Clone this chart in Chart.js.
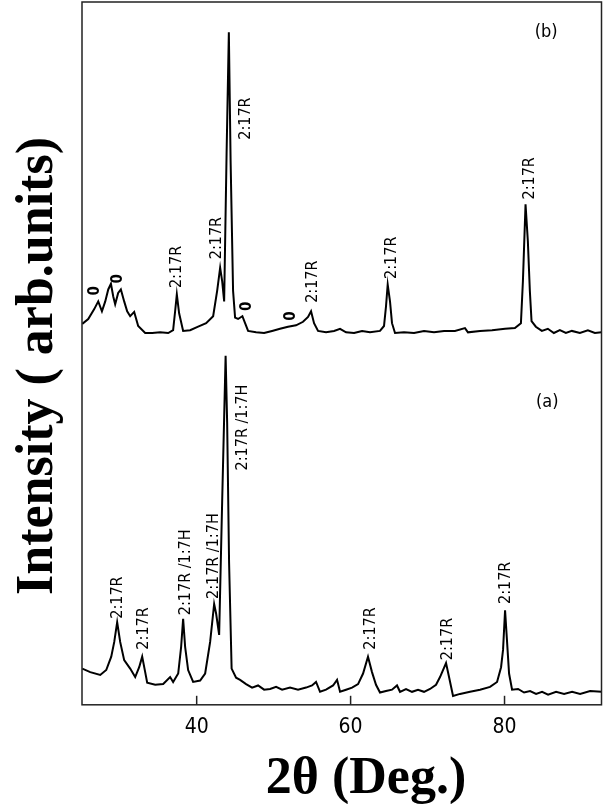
<!DOCTYPE html>
<html>
<head>
<meta charset="utf-8">
<script src="https://cdn.jsdelivr.net/npm/chart.js@4.4.0/dist/chart.umd.min.js"></script>
<style>
  html, body { margin: 0; padding: 0; background: #fff; }
  #wrap { width: 604px; height: 804px; }
</style>
</head>
<body>
<div id="wrap"><canvas id="xrd"></canvas></div>
<script>
// 2theta (deg) and intensity (arb. units)
const angleA = [25.13, 26.17, 27.47, 28.25, 28.9, 29.29, 29.67, 30.06, 30.58, 31.36, 32.01, 32.53, 32.92, 33.31, 33.57, 34.61, 35.65, 36.55, 36.94, 37.6, 37.98, 38.24, 38.5, 38.89, 39.54, 40.45, 41.1, 41.75, 42.27, 42.53, 42.92, 43.31, 43.76, 43.96, 44.21, 44.54, 45.12, 45.64, 46.42, 47.2, 47.98, 48.76, 49.54, 50.32, 51.1, 52.13, 53.17, 54.21, 54.99, 55.51, 56.03, 56.81, 57.72, 58.24, 58.63, 59.41, 60.19, 60.97, 61.62, 62.26, 62.78, 63.3, 63.82, 64.6, 65.38, 66.03, 66.42, 67.2, 67.98, 68.76, 69.54, 70.32, 71.1, 71.62, 72.4, 72.79, 73.31, 74.22, 75.52, 76.82, 78.12, 79.03, 79.55, 79.81, 80.07, 80.33, 80.59, 80.98, 81.76, 82.54, 83.32, 84.1, 84.88, 85.66, 86.7, 87.74, 88.78, 89.82, 91.12, 92.6];
const intensityA = [3.3, 2.8, 2.4, 3.1, 5.0, 7.1, 9.9, 7.1, 4.5, 3.3, 2.1, 3.5, 5.0, 2.8, 1.3, 1.0, 1.1, 2.1, 1.4, 2.6, 6.4, 10.4, 6.4, 3.1, 1.4, 1.6, 2.6, 7.1, 12.5, 11.1, 8.1, 27.0, 47.8, 38.3, 18.4, 3.3, 2.0, 1.7, 1.1, 0.6, 0.9, 0.3, 0.4, 0.7, 0.3, 0.6, 0.3, 0.6, 0.9, 1.4, 0, 0.3, 0.9, 1.7, 0, 0.3, 0.6, 1.1, 2.6, 5.0, 2.8, 1.0, -0.1, 0.1, 0.3, 0.9, 0, 0.4, 0, 0.3, 0, 0.4, 1.0, 2.1, 4.1, 2.1, -0.6, -0.3, 0, 0.3, 0.7, 1.4, 3.5, 6.0, 11.6, 7.1, 2.6, 0.3, 0.4, -0.1, 0.1, -0.3, 0, -0.4, 0, -0.3, 0, -0.3, 0.1, 0];

const angleB = [25.13, 25.91, 26.69, 27.21, 27.69, 28.12, 28.51, 28.86, 29.16, 29.41, 29.8, 30.15, 30.58, 30.97, 31.36, 31.88, 32.4, 33.31, 34.22, 35.26, 36.3, 36.94, 37.2, 37.42, 37.72, 38.24, 39.15, 40.19, 41.23, 42.14, 42.66, 43.05, 43.31, 43.57, 43.89, 44.18, 44.41, 44.73, 44.99, 45.38, 45.94, 46.29, 46.68, 47.72, 48.76, 49.8, 50.83, 51.87, 52.91, 53.82, 54.47, 54.86, 55.25, 55.77, 56.81, 57.85, 58.63, 59.41, 60.45, 61.49, 62.52, 63.82, 64.34, 64.6, 64.82, 65.12, 65.38, 65.77, 66.94, 68.24, 69.54, 70.84, 72.14, 73.56, 74.86, 75.25, 76.82, 78.38, 80.07, 81.35, 82.13, 82.39, 82.73, 83.03, 83.29, 83.51, 84.07, 84.85, 85.63, 86.41, 87.19, 87.97, 88.75, 89.79, 90.83, 91.74, 92.6];
const intensityB = [1.3, 2.0, 3.4, 4.5, 3.1, 4.5, 6.2, 7.0, 5.2, 4.1, 5.7, 6.2, 4.5, 3.1, 2.4, 3.0, 1.0, 0, 0, 0.1, 0, 0.4, 3.1, 5.5, 2.8, 0.3, 0.4, 0.9, 1.4, 2.4, 6.0, 9.3, 7.4, 4.5, 25.8, 42.8, 24.4, 6.0, 2.2, 2.0, 2.4, 1.4, 0.3, 0.1, 0, 0.3, 0.6, 0.9, 1.1, 1.6, 2.3, 3.1, 1.4, 0.3, 0.1, 0.3, 0.6, 0.1, 0, 0.3, 0.1, 0.3, 1.0, 3.8, 6.9, 4.5, 1.4, 0, 0.1, 0, 0.3, 0.1, 0.3, 0.3, 0.7, 0.1, 0.3, 0.4, 0.6, 0.7, 1.4, 7.4, 18.3, 13.1, 6.0, 1.7, 0.9, 0.3, 0.6, 0, 0.4, 0, 0.3, 0, 0.4, 0, 0.1];

// vertical shift of each pattern in the stack
const offsetA = 1.85;
const offsetB = 52.9;

// peak labels: text, 2theta, intensity level where the label starts
const peakTextA = ['2:17R', '2:17R', '2:17R /1:7H', '2:17R /1:7H', '2:17R /1:7H', '2:17R', '2:17R', '2:17R'];
const peakAngleA = [29.71, 33.09, 38.63, 42.18, 46.05, 62.61, 72.69, 80.18];
const peakLevelA = [10.4, 6.0, 10.9, 13.2, 31.5, 6.0, 4.5, 12.5];

const peakTextB = ['2:17R', '2:17R', '2:17R', '2:17R', '2:17R', '2:17R'];
const peakAngleB = [37.42, 42.62, 46.38, 55.12, 65.34, 83.29];
const peakLevelB = [6.4, 10.5, 27.5, 4.3, 7.7, 19.0];

// oxide markers on pattern (b)
const oxideAngleB = [26.82, 29.84, 46.51, 52.22];
const oxideLevelB = [6.0, 7.7, 3.8, 2.4];

const tickValues = [40, 60, 80];

const toPoints = (xs, ys, off) => xs.map((x, i) => ({x: x, y: ys[i] + off}));

const labelFont = '500 16px "DejaVu Sans Condensed", "DejaVu Sans", sans-serif';

const decor = {
  id: 'decor',
  afterDraw(chart) {
    const ctx = chart.ctx;
    const a = chart.chartArea;
    const xs = chart.scales.x, ys = chart.scales.y;
    ctx.save();
    // frame
    ctx.strokeStyle = '#222';
    ctx.lineWidth = 1.5;
    ctx.strokeRect(a.left, a.top, a.right - a.left, a.bottom - a.top);
    // inward ticks
    tickValues.forEach(v => {
      const px = xs.getPixelForValue(v);
      ctx.beginPath();
      ctx.moveTo(px, a.bottom);
      ctx.lineTo(px, a.bottom - 9);
      ctx.stroke();
    });
    ctx.fillStyle = '#000';
    // rotated peak labels
    const vtext = (txt, deg, lvl, align) => {
      ctx.save();
      ctx.translate(xs.getPixelForValue(deg), ys.getPixelForValue(lvl));
      ctx.rotate(-Math.PI / 2);
      ctx.textAlign = align;
      ctx.textBaseline = 'middle';
      ctx.fillText(txt, 0, 0);
      ctx.restore();
    };
    ctx.font = labelFont;
    peakTextA.forEach((t, i) => vtext(t, peakAngleA[i], peakLevelA[i] + offsetA, 'left'));
    peakTextB.forEach((t, i) => vtext(t, peakAngleB[i], peakLevelB[i] + offsetB, 'left'));
    ctx.font = 'bold 15px "DejaVu Sans Condensed", "DejaVu Sans", sans-serif';
    oxideAngleB.forEach((d, i) => vtext('0', d, oxideLevelB[i] + offsetB, 'center'));
    // panel tags
    ctx.font = '18px "DejaVu Sans Condensed", "DejaVu Sans", sans-serif';
    ctx.textAlign = 'center';
    ctx.textBaseline = 'middle';
    ctx.fillText('(b)', xs.getPixelForValue(85.4), ys.getPixelForValue(95.7));
    ctx.fillText('(a)', xs.getPixelForValue(85.55), ys.getPixelForValue(43.0));
    // axis titles
    ctx.font = 'bold 52px "Liberation Serif", "Times New Roman", serif';
    ctx.textAlign = 'center';
    ctx.textBaseline = 'alphabetic';
    ctx.fillText('2\u03B8 (Deg.)', 366, 793);
    ctx.save();
    ctx.translate(52, 366);
    ctx.rotate(-Math.PI / 2);
    ctx.fillText('Intensity ( arb.units)', 0, 0);
    ctx.restore();
    ctx.restore();
  }
};

new Chart(document.getElementById('xrd'), {
  type: 'line',
  data: {
    datasets: [
      { label: '(b)', data: toPoints(angleB, intensityB, offsetB) },
      { label: '(a)', data: toPoints(angleA, intensityA, offsetA) }
    ]
  },
  options: {
    responsive: true,
    maintainAspectRatio: false,
    animation: false,
    layout: { padding: { left: 82, right: 2.5, top: 2, bottom: 54 } },
    elements: {
      line: { borderColor: '#000', borderWidth: 2, tension: 0, fill: false },
      point: { radius: 0, hoverRadius: 0 }
    },
    plugins: { legend: { display: false }, tooltip: { enabled: false } },
    scales: {
      x: {
        type: 'linear',
        min: 25.1,
        max: 92.6,
        afterBuildTicks: s => { s.ticks = tickValues.map(v => ({value: v})); },
        grid: { display: false, drawTicks: false },
        border: { display: false },
        ticks: {
          color: '#000',
          padding: 10,
          maxRotation: 0,
          font: { family: '"DejaVu Sans Condensed", "DejaVu Sans", sans-serif', size: 21 }
        }
      },
      y: {
        type: 'linear',
        min: 0,
        max: 100,
        display: false
      }
    }
  },
  plugins: [decor]
});
</script>
</body>
</html>
